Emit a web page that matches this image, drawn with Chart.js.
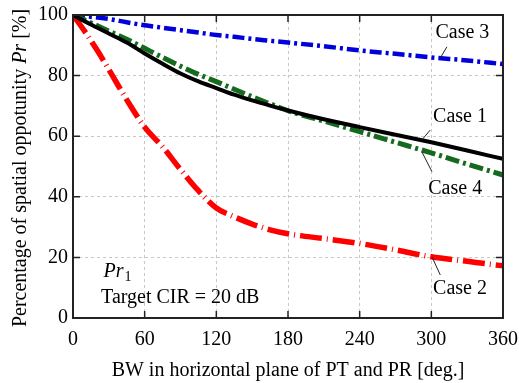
<!DOCTYPE html>
<html>
<head>
<meta charset="utf-8">
<script src="https://cdn.jsdelivr.net/npm/chart.js@4/dist/chart.umd.min.js"></script>
<style>
html,body{margin:0;padding:0;background:#fff;}
#wrap{width:519px;height:383px;}
</style>
</head>
<body>
<div id="wrap"><canvas id="grafik"></canvas></div>
<script>
// beamwidth [deg.]
const bw=[0,10,20,30,45,60,75,90,105,120,135,150,165,180,210,240,270,300,330,360];

// Pr [%]
const case1=[100,97.9,95.9,93.9,90.9,87.3,83.9,80.7,78.1,75.9,73.7,71.8,70.1,68.5,65.6,63.0,60.5,58.0,55.3,52.5];
const case2=[100,94.5,88.5,82.0,72.0,63.0,56.5,49.0,42.0,36.3,33.4,31.0,29.1,27.8,26.2,24.6,22.5,20.2,18.7,17.2];
const case3=[100,99.6,99.2,98.7,97.6,96.6,95.8,95.0,94.2,93.4,92.8,92.1,91.5,90.9,89.7,88.3,87.2,86.0,85.0,83.8];
const case4=[100,98.3,96.5,94.7,92.0,89.0,86.0,83.1,80.4,78.0,75.5,73.0,70.7,68.4,65.0,61.5,58.0,54.5,50.8,47.2];

const xTicks=[0,60,120,180,240,300,360];
const yTicks=[0,20,40,60,80,100];

const FONT="'Liberation Serif','Times New Roman',serif";

function pts(ys){
  return bw.map((x,i)=>({x:x,y:ys[i]}));
}

// label text, text position, leader line from -> to (data coords)
const labels=[
  {text:"Case 3",x:326,y:94.0,lx1:313,ly1:89.5,lx2:307.5,ly2:85.8},
  {text:"Case 1",x:324,y:66.4,lx1:299,ly1:62.0,lx2:292,ly2:58.7},
  {text:"Case 4",x:320,y:42.8,lx1:292,ly1:54.9,lx2:300.5,ly2:48.3},
  {text:"Case 2",x:324,y:9.8,lx1:300.5,ly1:20.2,lx2:307.5,ly2:14.2}
];

const rahmen={
  id:"rahmen",
  afterDraw(chart){
    const c=chart.ctx, a=chart.chartArea;
    const sx=chart.scales.x, sy=chart.scales.y;
    c.save();
    // inward ticks
    c.strokeStyle="#222";
    c.lineWidth=1.5;
    c.beginPath();
    xTicks.forEach(v=>{
      const p=sx.getPixelForValue(v);
      c.moveTo(p,a.bottom);c.lineTo(p,a.bottom-7);
      c.moveTo(p,a.top);c.lineTo(p,a.top+7);
    });
    yTicks.forEach(v=>{
      const p=sy.getPixelForValue(v);
      c.moveTo(a.left,p);c.lineTo(a.left+7,p);
      c.moveTo(a.right,p);c.lineTo(a.right-7,p);
    });
    c.stroke();
    // box
    c.lineWidth=2;
    c.strokeRect(a.left,a.top,a.right-a.left,a.bottom-a.top);

    // case labels
    c.fillStyle="#000";
    c.font="20px "+FONT;
    c.textAlign="center";
    c.textBaseline="middle";
    c.lineWidth=1;
    labels.forEach(l=>{
      c.fillText(l.text,sx.getPixelForValue(l.x),sy.getPixelForValue(l.y));
      c.beginPath();
      c.moveTo(sx.getPixelForValue(l.lx1),sy.getPixelForValue(l.ly1));
      c.lineTo(sx.getPixelForValue(l.lx2),sy.getPixelForValue(l.ly2));
      c.stroke();
    });

    // Pr1 and target CIR
    c.textAlign="left";
    c.textBaseline="alphabetic";
    let px=sx.getPixelForValue(25.5), py=sy.getPixelForValue(13.6);
    c.font="italic 20px "+FONT;
    c.fillText("Pr",px,py);
    const w=c.measureText("Pr").width;
    c.font="14px "+FONT;
    c.fillText("1",px+w+1,py+4);
    c.font="20px "+FONT;
    c.textBaseline="middle";
    c.fillText("Target CIR = 20 dB",sx.getPixelForValue(23.5),sy.getPixelForValue(6.6));

    // y title with italic Pr
    const parts=[["Percentage of spatial oppotunity ",""],["Pr","italic "],[" [%]",""]];
    let total=0;
    parts.forEach(p=>{c.font=p[1]+"20px "+FONT;total+=c.measureText(p[0]).width;});
    c.translate(21,168);
    c.rotate(-Math.PI/2);
    let cx=-total/2;
    parts.forEach(p=>{
      c.font=p[1]+"20px "+FONT;
      c.fillText(p[0],cx,0);
      cx+=c.measureText(p[0]).width;
    });
    c.restore();
  }
};

const ctx=document.getElementById("grafik");

new Chart(ctx,{
  type:"line",
  data:{
    datasets:[
      {label:"Case 1",data:pts(case1),borderColor:"#000",borderWidth:4},
      {label:"Case 4",data:pts(case4),borderColor:"#146b1e",borderWidth:5,borderDash:[14,4,3,4]},
      {label:"Case 3",data:pts(case3),borderColor:"#0000dd",borderWidth:4.5,borderDash:[12,4,3,4]},
      {label:"Case 2",data:pts(case2),borderColor:"#ff0000",borderWidth:5.5,borderDash:[22,5,1,5]}
    ]
  },
  options:{
    responsive:true,
    maintainAspectRatio:false,
    animation:false,
    layout:{padding:{top:15,right:16,left:0,bottom:0}},
    elements:{
      point:{radius:0},
      line:{cubicInterpolationMode:"monotone",fill:false}
    },
    plugins:{
      legend:{display:false},
      tooltip:{enabled:false}
    },
    scales:{
      x:{
        type:"linear",
        min:0,
        max:360,
        afterBuildTicks:function(s){s.ticks=xTicks.map(v=>({value:v}));},
        afterFit:function(s){s.height=65;s.paddingLeft=0;s.paddingRight=0;},
        ticks:{color:"#000",padding:10,maxRotation:0,font:{family:FONT,size:20}},
        grid:{color:"#c8c8c8",lineWidth:1,drawTicks:false},
        border:{display:false,dash:[3,3]},
        title:{display:true,text:"BW in horizontal plane of PT and PR [deg.]",color:"#000",padding:{top:0,bottom:0},font:{family:FONT,size:20}}
      },
      y:{
        min:0,
        max:100,
        afterBuildTicks:function(s){s.ticks=yTicks.map(v=>({value:v}));},
        afterFit:function(s){s.width=73;s.paddingTop=0;s.paddingBottom=0;},
        ticks:{color:"#000",padding:5,font:{family:FONT,size:20}},
        grid:{color:"#c8c8c8",lineWidth:1,drawTicks:false},
        border:{display:false,dash:[3,3]}
      }
    }
  },
  plugins:[rahmen]
});
</script>
</body>
</html>
